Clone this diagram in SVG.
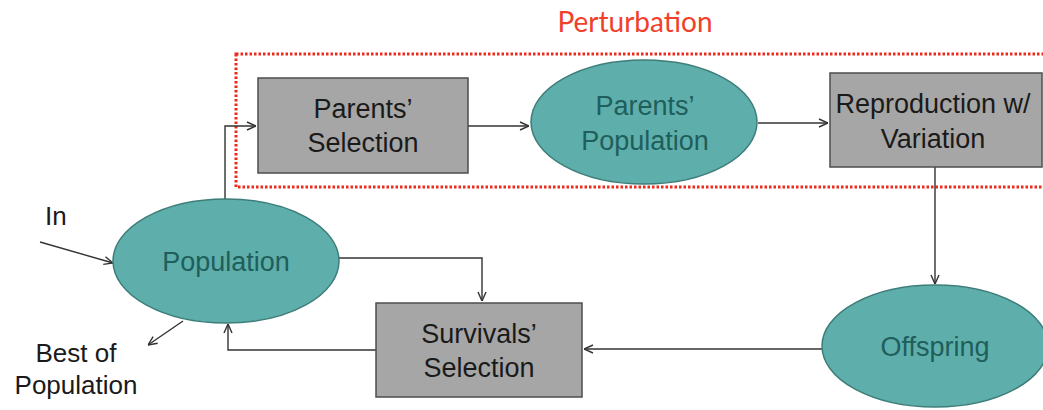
<svg xmlns="http://www.w3.org/2000/svg" width="1043" height="410" viewBox="0 0 1043 410">
<style>
.box{fill:#a6a6a6;stroke:#4d4d4d;stroke-width:1.5}
.ell{fill:#5eaeab;stroke:#3d7d7a;stroke-width:1.5}
.t{font-family:"Liberation Sans",Arial,sans-serif;font-size:27px;fill:#1a1a1a;text-anchor:middle}
.te{font-family:"Liberation Sans",Arial,sans-serif;font-size:27px;fill:#1f5e5b;text-anchor:middle}
.c{fill:none;stroke:#333;stroke-width:1.4}
</style>
<defs>
<marker id="ah" viewBox="0 0 10 10" refX="10" refY="5" markerWidth="10" markerHeight="10" markerUnits="userSpaceOnUse" orient="auto">
<polyline points="1,1 10,5 1,9" fill="none" stroke="#333" stroke-width="1.4"/>
</marker>
</defs>
<g id="perturbation">
<rect x="236" y="54" width="820" height="133" fill="none" stroke="#ee2a1c" stroke-width="3" stroke-dasharray="2.5 2"/>
<text x="635" y="32" font-family="Lato,'Open Sans',sans-serif" font-size="28" fill="#f0402a" text-anchor="middle">Perturbation</text>
</g>
<g id="connectors">
<path class="c" d="M468,126 L529,126" marker-end="url(#ah)"/>
<path class="c" d="M758,123 L828,123" marker-end="url(#ah)"/>
<path class="c" d="M935,167 L935,284" marker-end="url(#ah)"/>
<path class="c" d="M822,349 L584,349" marker-end="url(#ah)"/>
<path class="c" d="M376,350 L228,350 L228,324" marker-end="url(#ah)"/>
<path class="c" d="M337,258 L482,258 L482,301" marker-end="url(#ah)"/>
<path class="c" d="M225,199 L225,126 L256,126" marker-end="url(#ah)"/>
<path class="c" d="M40,242 L113,263" marker-end="url(#ah)"/>
<path class="c" d="M183,321 L148,345" marker-end="url(#ah)"/>
</g>
<g id="parents-selection">
<rect class="box" x="258" y="78" width="210" height="95"/>
<text class="t" x="363" y="118">Parents’</text>
<text class="t" x="363" y="152">Selection</text>
</g>
<g id="parents-population">
<ellipse class="ell" cx="644" cy="122" rx="113" ry="62"/>
<text class="te" x="645" y="115">Parents’</text>
<text class="te" x="645" y="150">Population</text>
</g>
<g id="reproduction">
<rect class="box" x="830" y="73" width="212" height="94"/>
<text class="t" x="933" y="113">Reproduction w/</text>
<text class="t" x="933" y="148">Variation</text>
</g>
<g id="offspring">
<ellipse class="ell" cx="935" cy="346" rx="113" ry="61"/>
<text class="te" x="935" y="356">Offspring</text>
</g>
<g id="survivals-selection">
<rect class="box" x="376" y="303" width="206" height="94"/>
<text class="t" x="479" y="343">Survivals’</text>
<text class="t" x="479" y="377">Selection</text>
</g>
<g id="population">
<ellipse class="ell" cx="226" cy="261" rx="113" ry="62"/>
<text class="te" x="226" y="271">Population</text>
</g>
<g id="labels">
<text x="45" y="225" font-family="Liberation Sans,Arial,sans-serif" font-size="26" fill="#1a1a1a">In</text>
<text x="76" y="362" font-family="Liberation Sans,Arial,sans-serif" font-size="26" fill="#1a1a1a" text-anchor="middle">Best of</text>
<text x="76" y="394" font-family="Liberation Sans,Arial,sans-serif" font-size="26" fill="#1a1a1a" text-anchor="middle">Population</text>
</g>
</svg>
